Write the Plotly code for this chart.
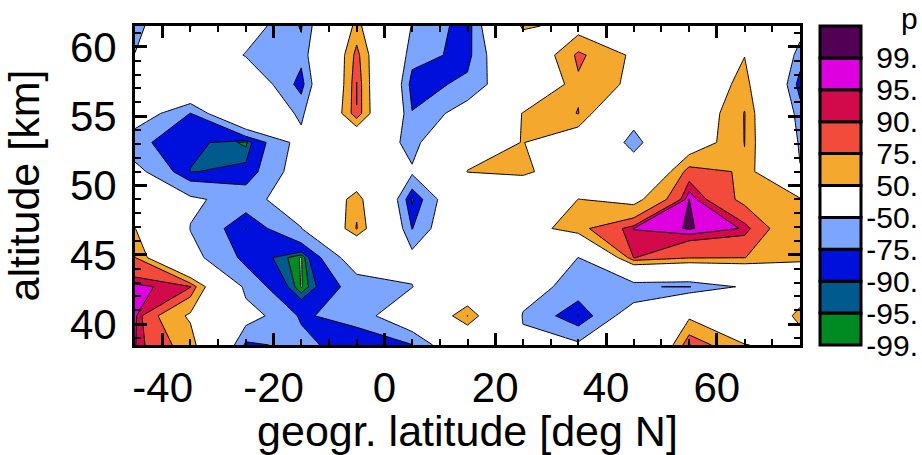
import plotly.graph_objects as go

# ---- data ----
lat = [-45, -35, -25, -15, -5, 5, 15, 25, 35, 45, 55, 65, 75]
alt = [38.5, 40.6, 42.7, 44.8, 46.9, 49.0, 51.0, 53.1, 55.2, 57.3, 59.4, 61.5]

# p values; one row per altitude (bottom -> top), one column per latitude
p_r00 = [95.5, 65, -80, -68, -89, -76, -6, -45, -45, -49, 91, 51, 40]
p_r01 = [96.5, 45, -35, -78, -66, -20, 76, -52, -91, -30, 45, 20, 55]
p_r02 = [97, 91, -60, -99.5, -65, -51, 0, -38, -60, -74, -76, -45, 38]
p_r03 = [76, -40, -81, -99.5, -30, -40, 0, 10, -50.5, 90.5, 77, 75.5, 52]
p_r04 = [51, -51, -90.5, -51, 77, -76, 0, 28, 70, 95.2, 99.5, 94.5, 52]
p_r05 = [-30, -45, -62, -30, 68, -93, 0, 0, 50.5, 40, 99.05, 70, 55]
p_r06 = [-40, -90.5, -87, -33, 4, -45, 51, 58, 20, -20, 85, 72, -48]
p_r07 = [-70, -86.5, -96.5, -38, 2, -64.7, 30, 51, 20, -65, 25, 75.5, -55]
p_r08 = [-28, -75.5, 5, -58, 89.8, -74, -34, 52, 76, -30, 18, 76, -65]
p_r09 = [-35, 0, -18, -84, 90.5, -84, -70, -14, 71, 43, 5, 64, -85]
p_r10 = [-48, -15, -52, -68, 83, -66, -82, 10, 80, 45, 20, 49, -62]
p_r11 = [-72, 52, -33, -77, 60, -52, -86, 56, 37, 20, 10, 20, -36]
p = [p_r00, p_r01, p_r02, p_r03, p_r04, p_r05,
     p_r06, p_r07, p_r08, p_r09, p_r10, p_r11]

x_tickvals = [-40, -20, 0, 20, 40, 60]
x_ticktext = ['-40', '-20', '0', '20', '40', '60']
y_tickvals = [40, 45, 50, 55, 60]
y_ticktext = ['40', '45', '50', '55', '60']

pos_levels = [50, 75, 90, 95, 99]
pos_colors = ['#F5A82E', '#F24B3B', '#D20A4B', '#DF00DF', '#520055']
neg_levels = [-50, -75, -90, -95, -99]
neg_colors = ['#7BA5FF', '#0010DC', '#005A8E', '#008A22', '#FFFFFF']

cb_labels = ['-99.', '-95.', '-90.', '-75.', '-50.', '50.', '75.', '90.', '95.', '99.']
cb_colors = ['#008A22', '#005A8E', '#0010DC', '#7BA5FF', '#FFFFFF',
             '#F5A82E', '#F24B3B', '#D20A4B', '#DF00DF', '#520055']

FONT = 'Liberation Sans, Arial, Helvetica, sans-serif'

fig = go.Figure()


def add_level(level, color, op):
    # plotly shades the region that does NOT satisfy the constraint
    fig.add_trace(go.Contour(
        x=lat, y=alt, z=p,
        contours=dict(type='constraint', operation=op, value=level, showlabels=False),
        fillcolor=color,
        line=dict(color='black', width=1, smoothing=0),
        showscale=False, hoverinfo='skip',
    ))


for L, c in zip(pos_levels, pos_colors):
    add_level(L, c, '<')      # shades p >= L
for L, c in zip(neg_levels, neg_colors):
    add_level(L, c, '>')      # shades p <= L

# colour bar built from stacked bars
fig.add_trace(go.Bar(
    x=[0] * len(cb_labels), y=[1] * len(cb_labels), base=list(range(len(cb_labels))),
    width=1, marker=dict(color=cb_colors, line=dict(color='black', width=3)),
    xaxis='x2', yaxis='y2', hoverinfo='skip', showlegend=False,
))

axis_common = dict(
    ticks='inside', ticklen=12, tickwidth=2.5, tickcolor='black',
    showline=True, linewidth=3, linecolor='black', mirror='allticks',
    showgrid=False, zeroline=False, automargin=False, tickmode='array',
    tickfont=dict(size=42, family=FONT, color='black'),
)

fig.update_layout(
    width=922, height=455,
    margin=dict(l=135, r=5, t=20, b=105),
    paper_bgcolor='white', plot_bgcolor='white', showlegend=False,
    font=dict(family=FONT, size=42, color='black'),
    xaxis=dict(
        domain=[0, 0.85038], range=[-45, 75], tickvals=x_tickvals, ticktext=x_ticktext,
        minor=dict(ticks='inside', ticklen=6, tickwidth=2, tick0=-45, dtick=5,
                   tickcolor='black', showgrid=False),
        title=dict(text='geogr. latitude [deg N]', font=dict(size=43, family=FONT), standoff=0),
        ticklabelstandoff=4,
        **axis_common,
    ),
    yaxis=dict(
        domain=[0.01515, 0.98182], range=[38.5, 61.5], tickvals=y_tickvals, ticktext=y_ticktext,
        minor=dict(ticks='inside', ticklen=6, tickwidth=2, tick0=38, dtick=1,
                   tickcolor='black', showgrid=False),
        title=dict(text='altitude [km]', font=dict(size=43, family=FONT), standoff=20),
        ticklabelstandoff=7,
        **axis_common,
    ),
    xaxis2=dict(domain=[0.87334, 0.93101], range=[-0.55, 0.55], visible=False,
                anchor='y2', fixedrange=True),
    yaxis2=dict(domain=[0.00548, 0.99148], range=[-0.1, 10.1], anchor='free', position=1.0,
                side='right', tickmode='array', tickvals=list(range(len(cb_labels))),
                ticktext=cb_labels, ticks='', showline=False, showgrid=False, zeroline=False,
                ticklabelposition='inside', ticklabeloverflow='allow', ticklabelstandoff=-4,
                tickfont=dict(size=30, family=FONT, color='black'), fixedrange=True),
    annotations=[dict(text='p', xref='paper', yref='paper', x=1.0, y=1.06, xshift=3,
                      xanchor='right', yanchor='top', showarrow=False,
                      font=dict(size=30, family=FONT, color='black'))],
)

fig.write_html('out.html')
